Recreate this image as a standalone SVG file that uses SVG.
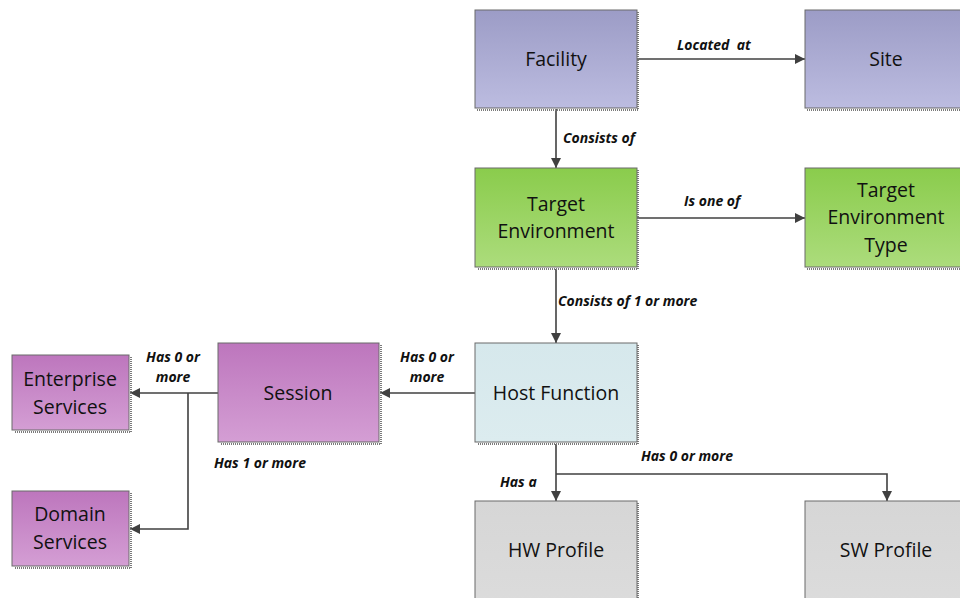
<svg xmlns="http://www.w3.org/2000/svg" width="960" height="598" viewBox="0 0 960 598">
  <defs>
    <linearGradient id="gBlue" x1="0" y1="0" x2="0" y2="1">
      <stop offset="0" stop-color="#9c9cc6"/>
      <stop offset="1" stop-color="#bcbce0"/>
    </linearGradient>
    <linearGradient id="gGreen" x1="0" y1="0" x2="0" y2="1">
      <stop offset="0" stop-color="#8acc4c"/>
      <stop offset="1" stop-color="#acdc7c"/>
    </linearGradient>
    <linearGradient id="gPurple" x1="0" y1="0" x2="0" y2="1">
      <stop offset="0" stop-color="#bd76bd"/>
      <stop offset="1" stop-color="#d49ed4"/>
    </linearGradient>
    <linearGradient id="gCyan" x1="0" y1="0" x2="0" y2="1">
      <stop offset="0" stop-color="#d6e8ec"/>
      <stop offset="1" stop-color="#dcecef"/>
    </linearGradient>
    <linearGradient id="gGray" x1="0" y1="0" x2="0" y2="1">
      <stop offset="0" stop-color="#d6d6d6"/>
      <stop offset="1" stop-color="#dcdcdc"/>
    </linearGradient>
    <marker id="arr" viewBox="0 0 10 10" refX="10" refY="5" markerWidth="10" markerHeight="10" markerUnits="userSpaceOnUse" orient="auto">
      <path d="M0,0 L10,5 L0,10 z" fill="#404040"/>
    </marker>
  </defs>
  <style>
    .box { stroke: #6a6a6a; stroke-width: 1; }
    .shadow { fill: none; stroke: #7a7a7a; stroke-width: 2; stroke-dasharray: 1 1; }
    .name { font-family: "Open Sans", "Liberation Sans", sans-serif; font-size: 19.5px; fill: #111; text-anchor: middle; }
    .lbl { font-family: "Open Sans", "Liberation Sans", sans-serif; font-size: 14px; font-weight: bold; font-style: italic; fill: #111; }
    .wire { fill: none; stroke: #404040; stroke-width: 1.6; }
  </style>
  <rect width="960" height="598" fill="#ffffff"/>

  <!-- connectors -->
  <g id="connectors">
    <path class="wire" d="M637,59 H805" marker-end="url(#arr)"/>
    <path class="wire" d="M556,109 V168" marker-end="url(#arr)"/>
    <path class="wire" d="M637,218 H805" marker-end="url(#arr)"/>
    <path class="wire" d="M556,269 V343" marker-end="url(#arr)"/>
    <path class="wire" d="M475,393 H380" marker-end="url(#arr)"/>
    <path class="wire" d="M218,393 H130" marker-end="url(#arr)"/>
    <path class="wire" d="M188,393 V529 H130" marker-end="url(#arr)"/>
    <path class="wire" d="M556,444 V501" marker-end="url(#arr)"/>
    <path class="wire" d="M556,474 H887 V501" marker-end="url(#arr)"/>
    <text class="lbl" x="677" y="50">Located&#160; at</text>
    <text class="lbl" x="563" y="143">Consists of</text>
    <text class="lbl" x="684" y="206">Is one of</text>
    <text class="lbl" x="558" y="306">Consists of 1 or more</text>
    <text class="lbl" x="427" y="362" text-anchor="middle">Has 0 or</text>
    <text class="lbl" x="427" y="382" text-anchor="middle">more</text>
    <text class="lbl" x="173" y="362" text-anchor="middle">Has 0 or</text>
    <text class="lbl" x="173" y="382" text-anchor="middle">more</text>
    <text class="lbl" x="214" y="468">Has 1 or more</text>
    <text class="lbl" x="500" y="487">Has a</text>
    <text class="lbl" x="641" y="461">Has 0 or more</text>
  </g>

  <g id="facility">
    <path class="shadow" d="M638,12 V110 H477"/>
    <rect class="box" x="475" y="10" width="162" height="98" fill="url(#gBlue)"/>
    <text class="name" x="556" y="66">Facility</text>
  </g>
  <g id="site">
    <path class="shadow" d="M968,110 H807"/>
    <rect class="box" x="805" y="10" width="170" height="98" fill="url(#gBlue)"/>
    <text class="name" x="886" y="66">Site</text>
  </g>
  <g id="target-environment">
    <path class="shadow" d="M638,170 V269 H477"/>
    <rect class="box" x="475" y="168" width="162" height="99" fill="url(#gGreen)"/>
    <text class="name" x="556" y="211">Target</text>
    <text class="name" x="556" y="238">Environment</text>
  </g>
  <g id="target-environment-type">
    <path class="shadow" d="M968,269 H807"/>
    <rect class="box" x="805" y="168" width="170" height="99" fill="url(#gGreen)"/>
    <text class="name" x="886" y="197">Target</text>
    <text class="name" x="886" y="224">Environment</text>
    <text class="name" x="886" y="252">Type</text>
  </g>
  <g id="host-function">
    <path class="shadow" d="M638,345 V444 H477"/>
    <rect class="box" x="475" y="343" width="162" height="99" fill="url(#gCyan)"/>
    <text class="name" x="556" y="400">Host Function</text>
  </g>
  <g id="session">
    <path class="shadow" d="M381,345 V444 H220"/>
    <rect class="box" x="218" y="343" width="161" height="99" fill="url(#gPurple)"/>
    <text class="name" x="298" y="400">Session</text>
  </g>
  <g id="enterprise-services">
    <path class="shadow" d="M131,357 V432 H14"/>
    <rect class="box" x="12" y="355" width="117" height="75" fill="url(#gPurple)"/>
    <text class="name" x="70" y="386">Enterprise</text>
    <text class="name" x="70" y="414">Services</text>
  </g>
  <g id="domain-services">
    <path class="shadow" d="M131,493 V568 H14"/>
    <rect class="box" x="12" y="491" width="117" height="75" fill="url(#gPurple)"/>
    <text class="name" x="70" y="521">Domain</text>
    <text class="name" x="70" y="549">Services</text>
  </g>
  <g id="hw-profile">
    <path class="shadow" d="M638,503 V600"/>
    <rect class="box" x="475" y="501" width="162" height="110" fill="url(#gGray)"/>
    <text class="name" x="556" y="557">HW Profile</text>
  </g>
  <g id="sw-profile">
    <rect class="box" x="805" y="501" width="170" height="110" fill="url(#gGray)"/>
    <text class="name" x="886" y="557">SW Profile</text>
  </g>
</svg>
